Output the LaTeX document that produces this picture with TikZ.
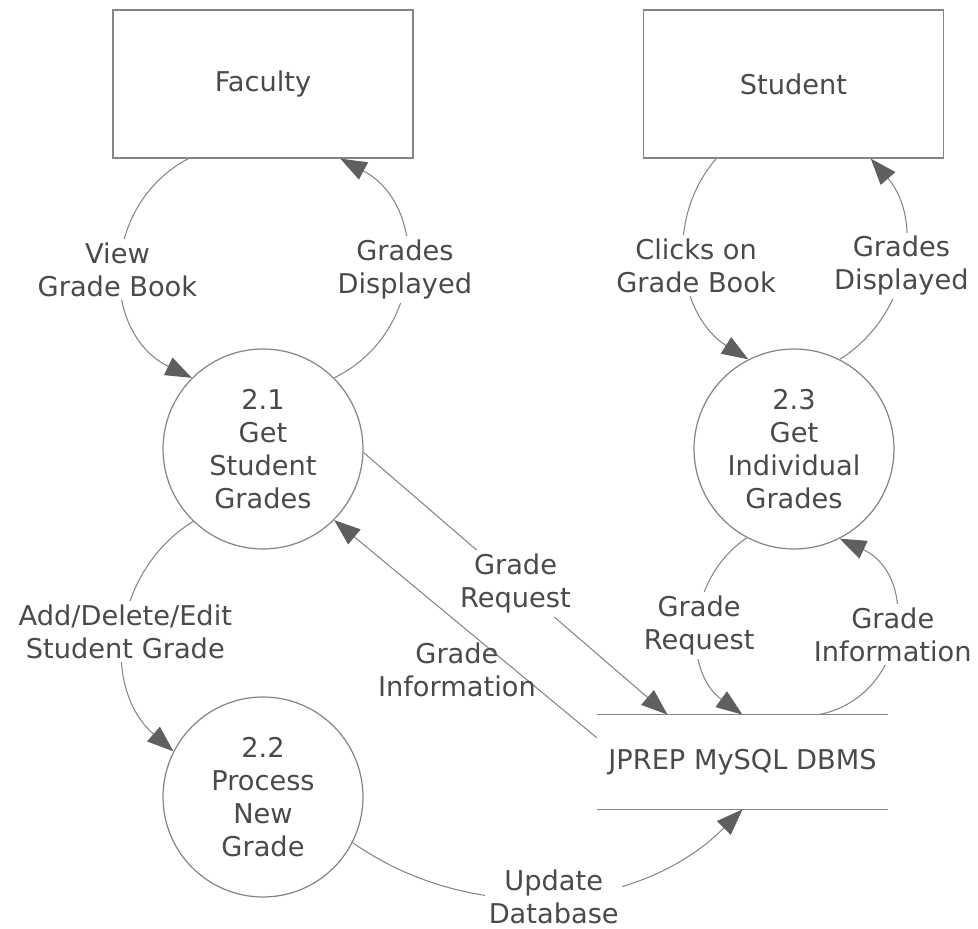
\documentclass[tikz,border=0pt]{standalone}
\usepackage{fontspec}
\setmainfont{DejaVu Sans}
\usetikzlibrary{calc,arrows.meta,positioning}
\definecolor{linegray}{HTML}{858585}
\definecolor{tipgray}{HTML}{5F5F5F}
\definecolor{textgray}{HTML}{4A4A4A}
\newcommand{\dfdfont}{\fontsize{15.5}{18.8}\selectfont}
\tikzset{
  entity/.style={draw=linegray,line width=0.7pt,rectangle,minimum width=6cm,minimum height=2.96cm,inner sep=0pt,text=textgray,font=\dfdfont},
  process/.style={draw=linegray,line width=0.7pt,circle,minimum size=4cm,inner sep=0pt,align=center,text=textgray,font=\dfdfont},
  datastore/.style={minimum width=5.82cm,minimum height=1.88cm,inner sep=0pt,text=textgray,font=\dfdfont},
  storeline/.style={draw=linegray,line width=0.7pt},
  flow/.style={draw=linegray,line width=0.6pt,-{Triangle[length=15pt,width=11pt,color=tipgray]}},
  flowtext/.style={fill=white,inner sep=2pt,align=center,text=textgray,font=\dfdfont}
}
\begin{document}
\begin{tikzpicture}[x=0.02cm,y=0.02cm]
\useasboundingbox (0,0) rectangle (978,-929);

% external entities
\node [entity] (faculty) at (263,-84) {Faculty};
\node [entity] (student) at (793.5,-84) {Student};

% processes
\node [process] (getstudent) at (263,-449) {2.1\\Get\\Student\\Grades};
\node [process] (getindiv) at (794,-449) {2.3\\Get\\Individual\\Grades};
\node [process] (newgrade) at (263,-797) {2.2\\Process\\New\\Grade};

% data store
\node [datastore] (dbms) at (742.5,-762) {JPREP MySQL DBMS};
\draw [storeline] (dbms.north west) -- (dbms.north east);
\draw [storeline] (dbms.south west) -- (dbms.south east);

% faculty side
\draw [flow] (faculty.225) to[out=208,in=154,looseness=1.18] node[flowtext,xshift=-0.1cm]{View\\Grade Book} (getstudent.135);
\draw [flow] (getstudent.45) to[out=26,in=-28,looseness=1.18] node[flowtext]{Grades\\Displayed} (faculty.-44);
\draw [flow] (getstudent.-134) to[out=212,in=139,looseness=1.07] node[flowtext]{Add/Delete/Edit\\Student Grade} (newgrade.153);
\draw [flow] (newgrade.-27) to[out=-35,in=225,looseness=0.96] node[flowtext]{Update\\Database} (dbms.south);
\draw [flow] (getstudent.-2) -- node[flowtext]{Grade\\Request} ($(dbms.north)+(-75,0)$);
\draw [flow] ($(dbms.north west)+(0,-23)$) -- node[flowtext,fill=none,xshift=-0.17cm,yshift=-0.82cm]{Grade\\Information} (getstudent.-45);

% student side
\draw [flow] (student.224) to[out=229,in=148,looseness=1.03] node[flowtext,xshift=0.2cm]{Clicks on\\Grade Book} (getindiv.117);
\draw [flow] (getindiv.63) to[out=32,in=-49,looseness=1.03] node[flowtext]{Grades\\Displayed} (student.-44);
\draw [flow] (getindiv.-118) to[out=214,in=144,looseness=1.07] node[flowtext]{Grade\\Request} (dbms.north);
\draw [flow] ($(dbms.north)+(76,0)$) to[out=11,in=-25,looseness=1.3] node[flowtext]{Grade\\Information} (getindiv.-63);

\end{tikzpicture}
\end{document}
